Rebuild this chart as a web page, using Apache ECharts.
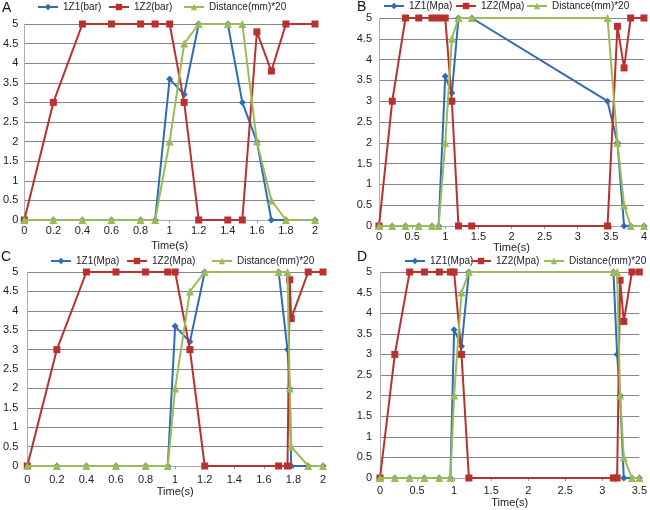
<!DOCTYPE html>
<html><head><meta charset="utf-8">
<script src="https://cdn.jsdelivr.net/npm/echarts@6/dist/echarts.min.js"></script>
<style>html,body{margin:0;padding:0;background:#fff}#c{width:650px;height:510px}</style>
</head><body><div id="c"></div>
<script>
// ---------- data ----------
const timesA = [0,0.2,0.4,0.6,0.8,0.9,1.0,1.1,1.2,1.4,1.5,1.6,1.7,1.8,2.0];
const z1A    = [0,0,0,0,0,0,3.6,3.2,5,5,3,2,0,0,0];
const z2A    = [0,3,5,5,5,5,5,3,0,0,0,4.8,3.8,5,5];
const distA  = [0,0,0,0,0,0,2,4.5,5,5,5,2,0.5,0,0];

const timesB = [0,0.2,0.4,0.6,0.8,0.9,1.0,1.1,1.2,1.4,3.45,3.6,3.7,3.8,4.0];
const z1B    = [0,0,0,0,0,0,3.6,3.2,5,5,3,2,0,0,0];
const z2B    = [0,3,5,5,5,5,5,3,0,0,0,4.8,3.8,5,5];
const distB  = [0,0,0,0,0,0,2,4.5,5,5,5,2,0.5,0,0];

const timesC = [0,0.2,0.4,0.6,0.8,0.95,1.0,1.1,1.2,1.7,1.76,1.775,1.785,1.9,2.0];
const z1C    = [0,0,0,0,0,0,3.6,3.2,5,5,3,2,0,0,0];
const z2C    = [0,3,5,5,5,5,5,3,0,0,0,4.8,3.8,5,5];
const distC  = [0,0,0,0,0,0,2,4.5,5,5,5,2,0.5,0,0];

const timesD = [0,0.2,0.4,0.6,0.8,0.95,1.0,1.1,1.2,3.15,3.2,3.24,3.29,3.4,3.5];
const z1D    = [0,0,0,0,0,0,3.6,3.2,5,5,3,2,0,0,0];
const z2D    = [0,3,5,5,5,5,5,3,0,0,0,4.8,3.8,5,5];
const distD  = [0,0,0,0,0,0,2,4.5,5,5,5,2,0.5,0,0];

const namesA = ['1Z1(bar)','1Z2(bar)','Distance(mm)*20'];
const namesBCD = ['1Z1(Mpa)','1Z2(Mpa)','Distance(mm)*20'];
const panelLetters = ['A','B','C','D'];
const xRanges = [[0,2,0.2],[0,4,0.5],[0,2,0.2],[0,3.5,0.5]];
const yRange = [0,5,0.5];
const xName = 'Time(s)';

// ---------- styling / layout ----------
const FONT = 'Liberation Sans, Arial, sans-serif';
const colors = ['#2f6bb6','#b8312f','#9bbb59'];
const symbols = ['diamond','rect','triangle'];
const symSizes = [7,7,8];

const panels = [
  {t:timesA, s:[z1A,z2A,distA], names:namesA,
   grid:{left:21, top:24, width:294, height:196}, xm:5, ng:20, ym:6,
   leg:[[37,2],[108,2],[183,2]], letter:[2,1]},
  {t:timesB, s:[z1B,z2B,distB], names:namesBCD,
   grid:{left:379, top:18, width:265, height:208}, xm:5, ng:16, ym:7,
   leg:[[383,1],[455,1],[526,1]], letter:[357,0]},
  {t:timesC, s:[z1C,z2C,distC], names:namesBCD,
   grid:{left:24, top:272, width:299, height:194}, xm:8, ng:20, ym:9,
   leg:[[50,256],[126,256],[211,256]], letter:[1,250]},
  {t:timesD, s:[z1D,z2D,distD], names:namesBCD,
   grid:{left:380, top:272, width:264, height:206}, xm:7, ng:19, ym:8,
   leg:[[404,256],[470,256],[543,256]], letter:[357,250]}
];

const pairs = (xs, ys) => xs.map((x,i)=>[x, ys[i]]);

const option = {
  animation:false,
  backgroundColor:'#fff',
  grid:[], xAxis:[], yAxis:[], series:[], legend:[], graphic:[]
};

panels.forEach((p, i) => {
  option.grid.push(Object.assign({containLabel:false}, p.grid));
  const xr = xRanges[i];
  option.xAxis.push({
    type:'value', gridIndex:i, min:xr[0], max:xr[1], interval:xr[2],
    name:xName, nameLocation:'middle', nameGap:p.ng,
    nameTextStyle:{fontFamily:FONT, fontSize:11, color:'#222'},
    axisLine:{show:true, onZero:false, lineStyle:{color:'#aaa', width:1}},
    axisTick:{show:true, length:3, lineStyle:{color:'#999'}},
    axisLabel:{fontFamily:FONT, fontSize:11, color:'#222', margin:p.xm},
    splitLine:{show:false}
  });
  option.yAxis.push({
    type:'value', gridIndex:i, min:yRange[0], max:yRange[1], interval:yRange[2],
    axisLine:{show:true, lineStyle:{color:'#b0b0b0', width:1}},
    axisTick:{show:false},
    axisLabel:{fontFamily:FONT, fontSize:11, color:'#222', margin:p.ym},
    splitLine:{show:true, lineStyle:{color:'#858585', width:1}}
  });
  p.s.forEach((vals, k) => {
    option.series.push({
      type:'line', name:p.names[k], xAxisIndex:i, yAxisIndex:i,
      data:pairs(p.t, vals),
      symbol:symbols[k], symbolSize:symSizes[k], showSymbol:true,
      lineStyle:{color:colors[k], width:2},
      itemStyle:{color:colors[k], borderWidth:0},
      z:2+k
    });
    option.legend.push({
      data:[p.names[k]], left:p.leg[k][0], top:p.leg[k][1], padding:0,
      itemWidth:20, itemHeight:8, itemGap:0, selectedMode:false,
      textStyle:{fontFamily:FONT, fontSize:10, color:'#222'}
    });
  });
  option.graphic.push({
    type:'text', left:p.letter[0], top:p.letter[1],
    style:{text:panelLetters[i], font:'14px ' + FONT, fill:'#111'}
  });
});

const chart = echarts.init(document.getElementById('c'));
chart.setOption(option);
</script>
</body></html>
